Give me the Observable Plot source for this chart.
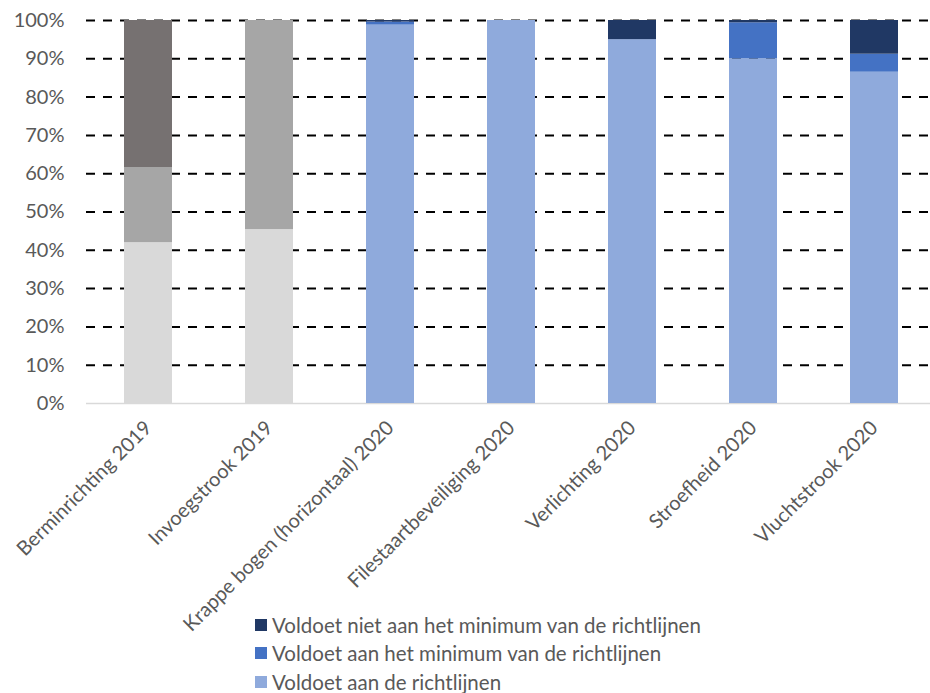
<!DOCTYPE html>
<html>
<head>
<meta charset="utf-8">
<script src="https://cdn.jsdelivr.net/npm/d3@7"></script>
<script src="https://cdn.jsdelivr.net/npm/@observablehq/plot@0.6"></script>
<style>
  body { margin: 0; background: #fff; font-family: Lato, "Open Sans", sans-serif; overflow: hidden; }
  #wrap { position: relative; width: 930px; height: 693px; }
  #legend { position: absolute; left: 255px; top: 611px; font-size: 20.5px; color: #595959; background: transparent; }
  #legend .item { display: flex; align-items: center; height: 28.3px; }
  #legend .sw { width: 12px; height: 12px; margin-right: 5px; display: inline-block; }
</style>
</head>
<body>
<div id="wrap">
<div id="chart"></div>
<div id="legend"></div>
</div>
<script>
const categories = ["Berminrichting 2019", "Invoegstrook 2019", "Krappe bogen (horizontaal) 2020", "Filestaartbeveiliging 2020", "Verlichting 2020", "Stroefheid 2020", "Vluchtstrook 2020"];
const seriesNames = ["Voldoet aan de richtlijnen", "Voldoet aan het minimum van de richtlijnen", "Voldoet niet aan het minimum van de richtlijnen"];
// values in percent, bottom to top
const meets   = [42.0, 45.4, 98.8, 100, 95.0, 90.0, 86.5];
const minimum = [19.6, 54.6, 0.8, 0, 0, 9.4, 4.7];
const notMin  = [38.4, 0, 0.4, 0, 5.0, 0.6, 8.8];
const greyColors = ["#d9d9d9", "#a6a6a6", "#767171"];
const blueColors = ["#8faadc", "#4472c4", "#203864"];
const yTicks = [0, 10, 20, 30, 40, 50, 60, 70, 80, 90, 100];

const seriesValues = [meets, minimum, notMin];
const data = [];
categories.forEach((c, i) => {
  const group = c.endsWith("2019") ? "grey" : "blue";
  seriesNames.forEach((s, j) => {
    data.push({category: c, series: s, key: group + j, value: seriesValues[j][i]});
  });
});

const colorDomain = ["grey0", "grey1", "grey2", "blue0", "blue1", "blue2"];
const colorRange = [...greyColors, ...blueColors];

const chart = Plot.plot({
  width: 930,
  height: 640,
  marginTop: 20,
  marginBottom: 237,
  marginLeft: 86,
  marginRight: 0,
  style: {fontFamily: "Lato, 'Open Sans', sans-serif", fontSize: "20px", color: "#595959", background: "transparent"},
  x: {domain: categories, range: [86, 936.5], paddingInner: 0.6, paddingOuter: 0.3, label: null},
  y: {domain: [0, 100], label: null},
  color: {type: "ordinal", domain: colorDomain, range: colorRange},
  marks: [
    Plot.ruleY(yTicks.filter(d => d > 0), {stroke: "#000", strokeWidth: 2, strokeDasharray: "9,8"}),
    Plot.ruleY([0], {stroke: "#d9d9d9", strokeWidth: 1.5}),
    Plot.barY(data, {x: "category", y: "value", fill: "key", order: null}),
    Plot.axisY({ticks: yTicks, tickFormat: d => d + "%", tickSize: 0, tickPadding: 22, fontSize: 20, fill: "#595959"}),
    Plot.axisX({tickRotate: -45, tickSize: 0, tickPadding: 8, fontSize: 20, fill: "#595959"})
  ]
});
// nudge the rotated category labels a little further below the axis
d3.select(chart).selectAll("[transform]").filter(function() {
  return /rotate\(-45/.test(this.getAttribute("transform"));
}).each(function() {
  this.setAttribute("transform", "translate(0,13) " + this.getAttribute("transform"));
});
document.getElementById("chart").appendChild(chart);

const legendOrder = [2, 1, 0];
const legend = document.getElementById("legend");
legendOrder.forEach(j => {
  const item = document.createElement("div");
  item.className = "item";
  const sw = document.createElement("span");
  sw.className = "sw";
  sw.style.background = blueColors[j];
  const t = document.createElement("span");
  t.textContent = seriesNames[j];
  item.appendChild(sw);
  item.appendChild(t);
  legend.appendChild(item);
});
</script>
</body>
</html>
